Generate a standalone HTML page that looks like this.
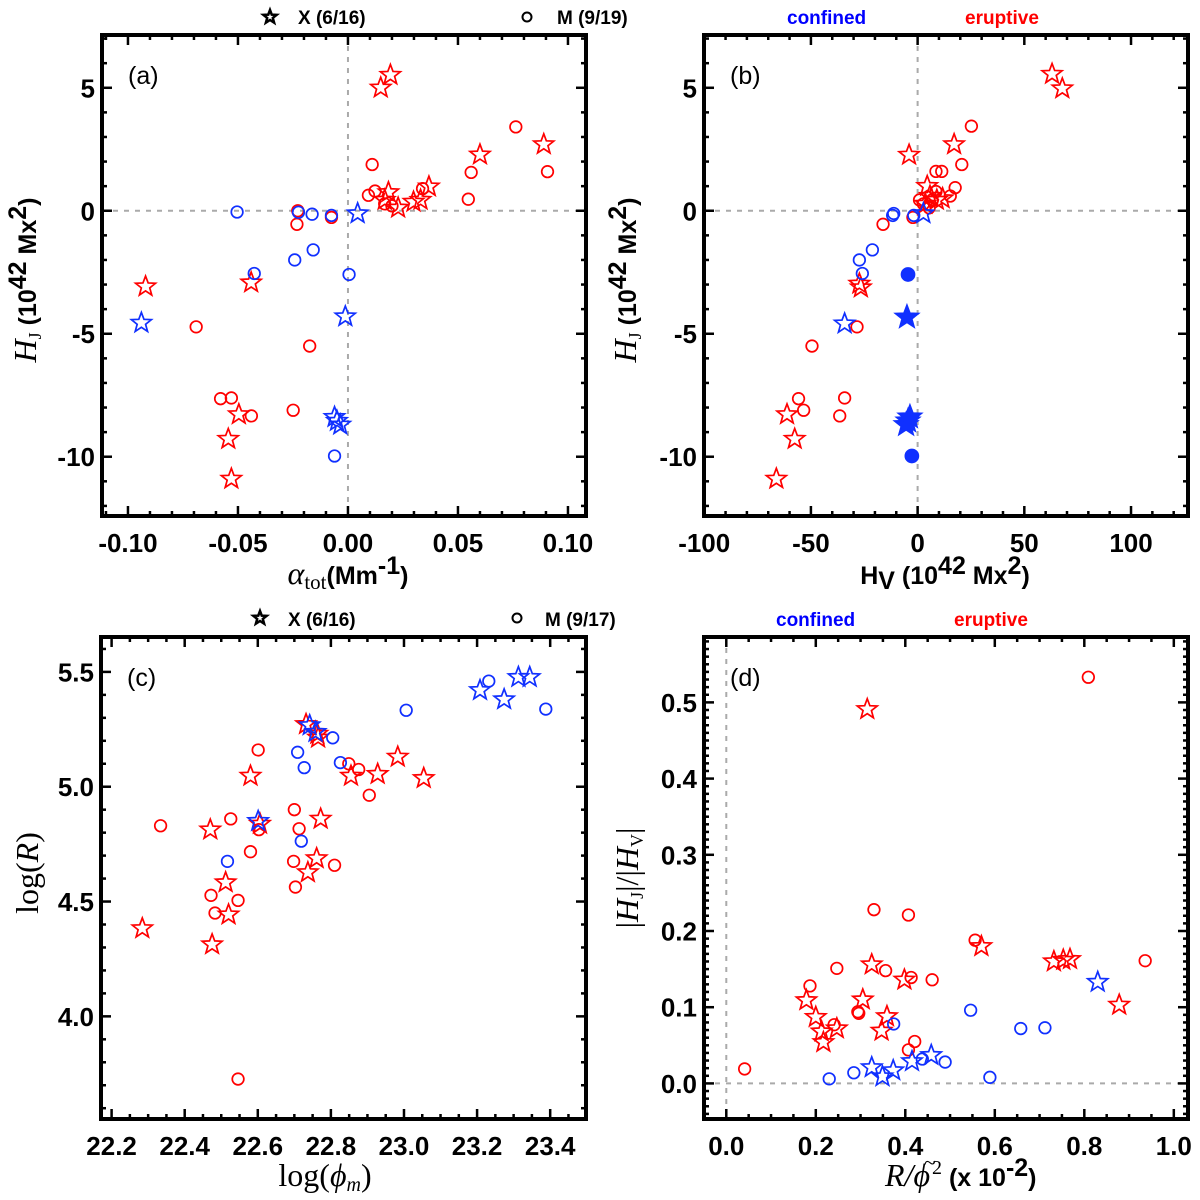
<!DOCTYPE html>
<html><head><meta charset="utf-8"><style>
html,body{margin:0;padding:0;background:#fff;}
svg{display:block;}
.tk{font-family:"Liberation Sans",sans-serif;font-weight:bold;font-size:26px;fill:#000;}
.ax{font-family:"Liberation Sans",sans-serif;font-weight:bold;font-size:25px;fill:#000;}
.hdr{font-family:"Liberation Sans",sans-serif;font-weight:bold;font-size:19px;}
.ser{font-family:"Liberation Serif",serif;}
.pl{font-family:"Liberation Sans",sans-serif;font-size:25px;fill:#000;}
</style></head><body>
<svg id="fig" width="1200" height="1200" viewBox="0 0 1200 1200" xmlns="http://www.w3.org/2000/svg">
<g>
<text class="hdr" x="298" y="24">X (6/16)</text>
<text class="hdr" x="557" y="24">M (9/19)</text>
<text class="hdr" x="787" y="24" fill="#0000ff">confined</text>
<text class="hdr" x="965" y="24" fill="#ff0000">eruptive</text>
</g>
<g>
<text class="hdr" x="288" y="626">X (6/16)</text>
<text class="hdr" x="545" y="626">M (9/17)</text>
<text class="hdr" x="776" y="626" fill="#0000ff">confined</text>
<text class="hdr" x="954" y="626" fill="#ff0000">eruptive</text>
</g>
<text x="348" y="584" text-anchor="middle"><tspan class="ser" font-style="italic" font-size="32">α</tspan><tspan class="ser" font-size="21" dy="5">tot</tspan><tspan class="ax" dy="-5">(Mm</tspan><tspan class="ax" font-size="15" dy="-10">-1</tspan><tspan class="ax" dy="10">)</tspan></text>
<text transform="translate(36,280) rotate(-90)" text-anchor="middle"><tspan class="ser" font-style="italic" font-size="32">H</tspan><tspan class="ser" font-size="18" dy="5">J</tspan><tspan class="ax" dy="-5"> (10</tspan><tspan class="ax" font-size="15" dy="-10">42</tspan><tspan class="ax" dy="10"> Mx</tspan><tspan class="ax" font-size="15" dy="-10">2</tspan><tspan class="ax" dy="10">)</tspan></text>
<text x="945" y="584" text-anchor="middle"><tspan class="ax">H</tspan><tspan class="ax" font-size="15" dy="5">V</tspan><tspan class="ax" dy="-5"> (10</tspan><tspan class="ax" font-size="15" dy="-10">42</tspan><tspan class="ax" dy="10"> Mx</tspan><tspan class="ax" font-size="15" dy="-10">2</tspan><tspan class="ax" dy="10">)</tspan></text>
<text transform="translate(636,280) rotate(-90)" text-anchor="middle"><tspan class="ser" font-style="italic" font-size="32">H</tspan><tspan class="ser" font-size="18" dy="5">J</tspan><tspan class="ax" dy="-5"> (10</tspan><tspan class="ax" font-size="15" dy="-10">42</tspan><tspan class="ax" dy="10"> Mx</tspan><tspan class="ax" font-size="15" dy="-10">2</tspan><tspan class="ax" dy="10">)</tspan></text>
<text x="325" y="1186" text-anchor="middle" class="ser" font-size="32">log(<tspan font-style="italic">ϕ</tspan><tspan font-style="italic" font-size="20" dy="5">m</tspan><tspan dy="-5">)</tspan></text>
<text transform="translate(38,873) rotate(-90)" text-anchor="middle" class="ser" font-size="32">log(<tspan font-style="italic">R</tspan>)</text>
<g>
<text x="885" y="1186"><tspan class="ser" font-style="italic" font-size="32">R/ϕ</tspan><tspan class="ser" font-size="20" dy="-12" dx="2">2</tspan><tspan class="ax" dy="12"> (x 10</tspan><tspan class="ax" font-size="15" dy="-10">-2</tspan><tspan class="ax" dy="10">)</tspan></text>
<text x="930" y="1170" class="ser" font-size="22" text-anchor="middle">~</text>
</g>
<text transform="translate(638,878) rotate(-90)" text-anchor="middle" class="ser" font-size="32">|<tspan font-style="italic">H</tspan><tspan font-size="18" dy="5">J</tspan><tspan dy="-5">|/|</tspan><tspan font-style="italic">H</tspan><tspan font-size="18" dy="5">V</tspan><tspan dy="-5">|</tspan></text>
</svg>
<script>
// ---------- Panel (a): alpha_tot vs H_J ----------
const aRedStarX=[0.0149,0.0193,0.060,0.089,-0.092,-0.044,-0.0496,-0.0544,-0.053,0.0184,0.0167,0.0228,0.0298,0.033,0.0368];
const aRedStarY=[5.0,5.52,2.28,2.70,-3.08,-2.92,-8.28,-9.28,-10.9,0.75,0.44,0.12,0.36,0.44,0.98];
const aRedCircX=[0.0763,0.011,0.056,0.0907,0.0547,0.0093,0.0123,0.0167,0.020,0.0339,-0.0228,-0.0232,-0.0075,-0.069,-0.0174,-0.0579,-0.053,-0.0439,-0.0249];
const aRedCircY=[3.41,1.88,1.56,1.59,0.47,0.63,0.80,0.28,0.2,0.9,0.0,-0.55,-0.27,-4.72,-5.5,-7.64,-7.61,-8.34,-8.11];
const aBlueCircX=[-0.0504,-0.0225,-0.0163,-0.0075,-0.0158,-0.0242,-0.0426,0.0005,-0.0061];
const aBlueCircY=[-0.05,-0.06,-0.14,-0.19,-1.59,-2.0,-2.55,-2.59,-9.97];
const aBlueStarX=[0.0044,-0.0939,-0.0012,-0.0061,-0.0035,-0.005];
const aBlueStarY=[-0.11,-4.56,-4.3,-8.39,-8.7,-8.55];
const aXTicks=[-0.10,-0.05,0.00,0.05,0.10];
const aXTickLabels=["-0.10","-0.05","0.00","0.05","0.10"];
const aYTicks=[5,0,-5,-10];
const aYTickLabels=["5","0","-5","-10"];

// ---------- Panel (b): H_V vs H_J ----------
const bRedStarX=[63,67.8,17.1,-4.0,4.5,-27.3,-26.6,-61.2,-57.6,-66.2,9.0,11.7,3.6,5.8];
const bRedStarY=[5.56,4.97,2.70,2.27,1.0,-2.97,-3.12,-8.28,-9.28,-10.9,0.44,0.5,0.28,0.6];
const bRedCircX=[25.2,20.7,8.6,11.3,17.6,15.3,8.6,0.9,2.7,6.8,5.4,-16.2,-2.2,-28.4,-49.5,-55.8,-34.2,-53.4,-36.5];
const bRedCircY=[3.44,1.88,1.6,1.6,0.94,0.6,0.78,0.44,0.28,0.44,0.12,-0.55,-0.27,-4.72,-5.5,-7.64,-7.61,-8.11,-8.34];
const bBlueCircX=[-11.2,-11.7,-1.8,-21.2,-27.3,-25.9];
const bBlueCircY=[-0.11,-0.19,-0.19,-1.59,-2.0,-2.55];
const bBlueStarX=[-34.2,2.7];
const bBlueStarY=[-4.59,-0.11];
const bBlueFillCircX=[-4.5,-2.7];
const bBlueFillCircY=[-2.59,-9.97];
const bBlueFillStarX=[-5.0,-4.5,-5.4,-3.6];
const bBlueFillStarY=[-4.33,-8.55,-8.7,-8.39];
const bXTicks=[-100,-50,0,50,100];
const bXTickLabels=["-100","-50","0","50","100"];
const bYTicks=[5,0,-5,-10];
const bYTickLabels=["5","0","-5","-10"];

// ---------- Panel (c): log(phi_m) vs log(R) ----------
const cBlueStarX=[23.208,23.274,23.313,23.344,22.601,22.742,22.758];
const cBlueStarY=[5.42,5.38,5.477,5.477,4.85,5.267,5.238];
const cBlueCircX=[23.232,23.006,23.388,22.805,22.709,22.727,22.826,22.719,22.517];
const cBlueCircY=[5.46,5.333,5.338,5.213,5.15,5.083,5.105,4.763,4.675];
const cRedStarX=[22.284,22.475,22.47,22.512,22.52,22.58,22.606,22.732,22.763,22.765,22.772,22.761,22.737,22.855,22.928,22.983,23.054];
const cRedStarY=[4.383,4.313,4.813,4.583,4.443,5.047,4.838,5.272,5.23,5.213,4.86,4.688,4.627,5.047,5.055,5.13,5.037];
const cRedCircX=[22.334,22.526,22.601,22.603,22.58,22.7,22.713,22.698,22.703,22.81,22.472,22.483,22.546,22.546,22.849,22.876,22.905];
const cRedCircY=[4.83,4.86,5.16,4.813,4.717,4.9,4.817,4.675,4.563,4.658,4.527,4.45,4.505,3.727,5.1,5.075,4.963];
const cXTicks=[22.2,22.4,22.6,22.8,23.0,23.2,23.4];
const cXTickLabels=["22.2","22.4","22.6","22.8","23.0","23.2","23.4"];
const cYTicks=[5.5,5.0,4.5,4.0];
const cYTickLabels=["5.5","5.0","4.5","4.0"];

// ---------- Panel (d): R/phi^2 vs |HJ|/|HV| ----------
const dRedCircX=[0.809,0.041,0.330,0.407,0.556,0.247,0.356,0.413,0.46,0.936,0.187,0.294,0.296,0.241,0.421,0.407];
const dRedCircY=[0.533,0.019,0.228,0.221,0.188,0.151,0.148,0.139,0.136,0.161,0.128,0.094,0.092,0.077,0.055,0.044];
const dRedStarX=[0.315,0.325,0.570,0.398,0.732,0.753,0.768,0.878,0.179,0.305,0.2,0.359,0.347,0.213,0.247,0.217];
const dRedStarY=[0.491,0.156,0.18,0.136,0.16,0.162,0.163,0.103,0.109,0.11,0.087,0.088,0.069,0.068,0.072,0.054];
const dBlueCircX=[0.546,0.658,0.712,0.374,0.23,0.285,0.438,0.489,0.589];
const dBlueCircY=[0.096,0.072,0.073,0.078,0.006,0.014,0.032,0.028,0.008];
const dBlueStarX=[0.83,0.325,0.349,0.373,0.415,0.458];
const dBlueStarY=[0.133,0.021,0.009,0.017,0.029,0.037];
const dXTicks=[0.0,0.2,0.4,0.6,0.8,1.0];
const dXTickLabels=["0.0","0.2","0.4","0.6","0.8","1.0"];
const dYTicks=[0.5,0.4,0.3,0.2,0.1,0.0];
const dYTickLabels=["0.5","0.4","0.3","0.2","0.1","0.0"];

const NS="http://www.w3.org/2000/svg";
const svg=document.getElementById('fig');
const RED="#ff0000", BLUE="#1030ff";
function mk(tag,attrs,parent){const e=document.createElementNS(NS,tag);for(const k in attrs)e.setAttribute(k,attrs[k]);(parent||svg).appendChild(e);return e;}
function linear(d0,d1,r0,r1){return v=>r0+(v-d0)*(r1-r0)/(d1-d0);}
function starPath(cx,cy,R){const r=R*0.42;let d="";for(let i=0;i<10;i++){const a=-Math.PI/2+i*Math.PI/5;const rr=i%2?r:R;d+=(i?"L":"M")+(cx+rr*Math.cos(a)).toFixed(2)+","+(cy+rr*Math.sin(a)).toFixed(2);}return d+"Z";}

function panel(id,box,xd,yd,majX,minX,majY,minY,xt,xtl,yt,ytl,zeroX,zeroY,label){
  const g=mk('g',{});
  
  
  const sx=linear(xd[0],xd[1],box.x0,box.x1), sy=linear(yd[0],yd[1],box.y1,box.y0);
  if(zeroX){const l=mk('line',{x1:sx(0),x2:sx(0),y1:box.y0,y2:box.y1,stroke:"#aaa","stroke-width":2,"stroke-dasharray":"5,6"},g);
    
    }
  if(zeroY){const l=mk('line',{x1:box.x0,x2:box.x1,y1:sy(0),y2:sy(0),stroke:"#aaa","stroke-width":2,"stroke-dasharray":"5,6"},g);
    
    }
  const tg=mk('g',{stroke:"#000","stroke-width":2.5},g);
  
  
  function xt_(v,len){const x=sx(v);mk('line',{x1:x,x2:x,y1:box.y1,y2:box.y1-len},tg);mk('line',{x1:x,x2:x,y1:box.y0,y2:box.y0+len},tg);}
  function yt_(v,len){const y=sy(v);mk('line',{x1:box.x0,x2:box.x0+len,y1:y,y2:y},tg);mk('line',{x1:box.x1,x2:box.x1-len,y1:y,y2:y},tg);}
  const eps=1e-9;
  const nx0=Math.ceil((xd[0]-eps)/minX), nx1=Math.floor((xd[1]+eps)/minX);
  for(let n=nx0;n<=nx1;n++){const v=n*minX;const isMaj=Math.abs(v/majX-Math.round(v/majX))<1e-6;xt_(v,isMaj?10:5);}
  const ny0=Math.ceil((yd[0]-eps)/minY), ny1=Math.floor((yd[1]+eps)/minY);
  for(let n=ny0;n<=ny1;n++){const v=n*minY;const isMaj=Math.abs(v/majY-Math.round(v/majY))<1e-6;yt_(v,isMaj?10:5);}
  xt.forEach((v,i)=>{const t=mk('text',{x:sx(v),y:box.y1+36,"text-anchor":"middle",class:"tk"},g);t.textContent=xtl[i];
    
    });
  yt.forEach((v,i)=>{const t=mk('text',{x:box.x0-7,y:sy(v)+9.5,"text-anchor":"end",class:"tk"},g);t.textContent=ytl[i];
    
    });
  const pl=mk('text',{x:box.x0+26,y:box.y0+49,class:"pl"},g);pl.textContent=label;
  
  
  return {g,sx,sy,box,id};
}
function frame(P){const b=P.box;const fr=mk('rect',{x:b.x0,y:b.y0,width:b.x1-b.x0,height:b.y1-b.y0,fill:"none",stroke:"#000","stroke-width":4},P.g);
  
  }
function stars(P,xs,ys,color,name,filled,R){xs.forEach((x,i)=>{const p=mk('path',{d:starPath(P.sx(x),P.sy(ys[i]),R||10.5),fill:filled?color:"none",stroke:color,"stroke-width":1.7},P.g);
  
  });}
function circs(P,xs,ys,color,name,filled,r){xs.forEach((x,i)=>{const c=mk('circle',{cx:P.sx(x),cy:P.sy(ys[i]),r:r||5.8,fill:filled?color:"none",stroke:color,"stroke-width":1.7},P.g);
  
  });}

const A=panel('a',{x0:102,x1:586,y0:35,y1:516},[-0.1118,0.1082],[-12.41,7.146],0.05,0.01,5,1,aXTicks,aXTickLabels,aYTicks,aYTickLabels,true,true,"(a)");
circs(A,aRedCircX,aRedCircY,RED,'point-red-circle-a');
stars(A,aRedStarX,aRedStarY,RED,'point-red-star-a');
circs(A,aBlueCircX,aBlueCircY,BLUE,'point-blue-circle-a');
stars(A,aBlueStarX,aBlueStarY,BLUE,'point-blue-star-a');
frame(A);

const B=panel('b',{x0:704,x1:1188,y0:35,y1:516},[-100.1,126.7],[-12.41,7.146],50,10,5,1,bXTicks,bXTickLabels,bYTicks,bYTickLabels,true,true,"(b)");
circs(B,bRedCircX,bRedCircY,RED,'point-red-circle-b');
stars(B,bRedStarX,bRedStarY,RED,'point-red-star-b');
circs(B,bBlueCircX,bBlueCircY,BLUE,'point-blue-circle-b');
stars(B,bBlueStarX,bBlueStarY,BLUE,'point-blue-star-b');
circs(B,bBlueFillCircX,bBlueFillCircY,BLUE,'point-blue-filled-circle-b',true,6.5);
stars(B,bBlueFillStarX,bBlueFillStarY,BLUE,'point-blue-filled-star-b',true,12);
frame(B);

const C=panel('c',{x0:101,x1:586,y0:637,y1:1119},[22.171,23.498],[3.553,5.652],0.2,0.05,0.5,0.1,cXTicks,cXTickLabels,cYTicks,cYTickLabels,false,false,"(c)");
circs(C,cRedCircX,cRedCircY,RED,'point-red-circle-c');
stars(C,cRedStarX,cRedStarY,RED,'point-red-star-c');
circs(C,cBlueCircX,cBlueCircY,BLUE,'point-blue-circle-c');
stars(C,cBlueStarX,cBlueStarY,BLUE,'point-blue-star-c');
frame(C);

const D=panel('d',{x0:704,x1:1188,y0:637,y1:1119},[-0.0498,1.0317],[-0.0467,0.5858],0.2,0.05,0.1,0.01,dXTicks,dXTickLabels,dYTicks,dYTickLabels,true,true,"(d)");
circs(D,dRedCircX,dRedCircY,RED,'point-red-circle-d');
stars(D,dRedStarX,dRedStarY,RED,'point-red-star-d');
circs(D,dBlueCircX,dBlueCircY,BLUE,'point-blue-circle-d');
stars(D,dBlueStarX,dBlueStarY,BLUE,'point-blue-star-d');
frame(D);

const hs=mk('path',{d:starPath(270,17,7),fill:"none",stroke:"#000","stroke-width":2.5});


const hc=mk('circle',{cx:527,cy:17,r:4.5,fill:"none",stroke:"#000","stroke-width":2});


const hs2=mk('path',{d:starPath(260,618,7),fill:"none",stroke:"#000","stroke-width":2.5});


const hc2=mk('circle',{cx:517,cy:618,r:4.5,fill:"none",stroke:"#000","stroke-width":2});


</script>
</body></html>
